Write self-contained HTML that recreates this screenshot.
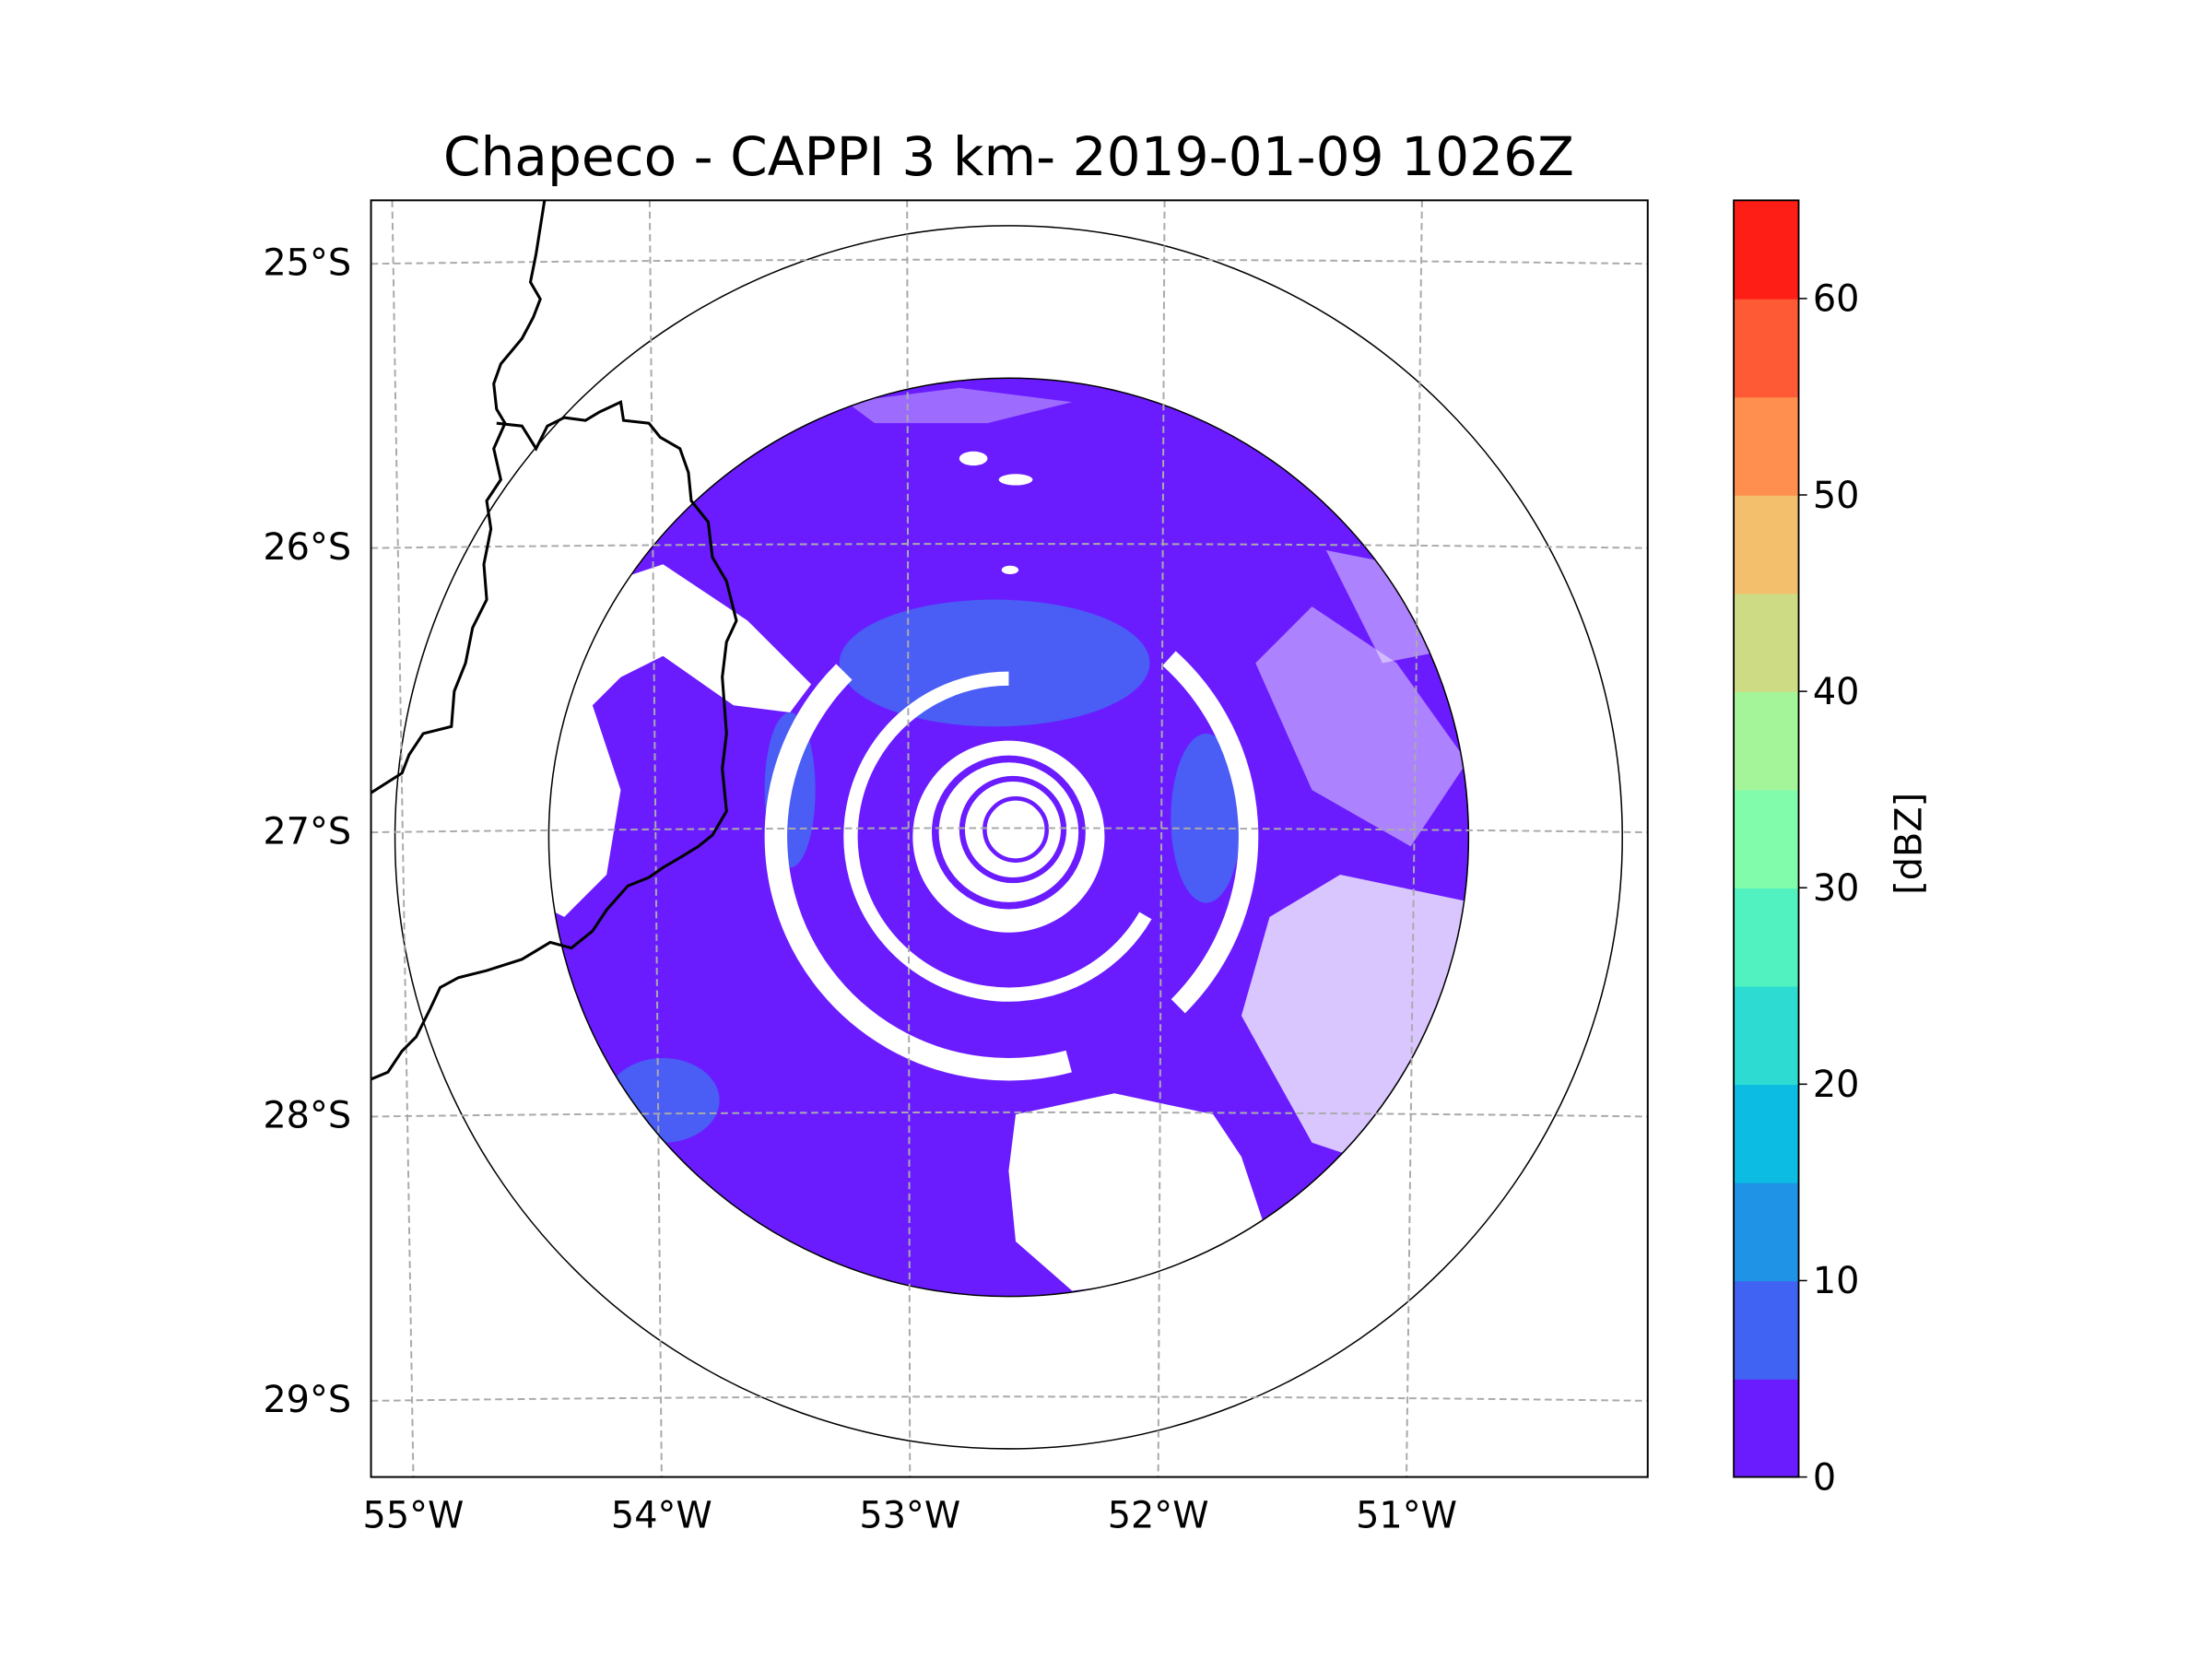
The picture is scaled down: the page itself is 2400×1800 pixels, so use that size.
<!DOCTYPE html>
<html><head><meta charset="utf-8"><style>
html,body{margin:0;padding:0;background:#fff;}
svg{display:block;font-family:"DejaVu Sans","Liberation Sans",sans-serif;}
</style></head><body>
<svg id="chart" width="2400" height="1800" viewBox="0 0 1568 1176" xmlns="http://www.w3.org/2000/svg">
<rect width="1568" height="1176" fill="#fff"/>
<text x="715" y="124" font-size="38" text-anchor="middle">Chapeco - CAPPI 3 km- 2019-01-09 1026Z</text>
<defs><clipPath id="plotclip"><rect x="263" y="142" width="905" height="905"/></clipPath>
<clipPath id="radarclip"><ellipse cx="715" cy="593.5" rx="326" ry="325.5"/></clipPath></defs>
<g id="radar" clip-path="url(#radarclip)">
<ellipse cx="715" cy="593.5" rx="326" ry="326" fill="#6a1cff"/>
<ellipse cx="705" cy="470" rx="110" ry="45" fill="#4a5df5"/>
<ellipse cx="470" cy="780" rx="40" ry="30" fill="#4a5df5"/>
<ellipse cx="855" cy="580" rx="25" ry="60" fill="#4a5df5"/>
<ellipse cx="560" cy="560" rx="18" ry="55" fill="#4a5df5"/>
<polygon points="440,410 470,400 530,440 575,485 560,505 520,500 470,465 440,480 400,520 380,500 410,440" fill="#fff"/>
<polygon points="380,520 420,500 440,560 430,620 400,650 380,640" fill="#fff"/>
<circle cx="715" cy="593" r="165" fill="none" stroke="#fff" stroke-width="16" stroke-dasharray="432 1100" transform="rotate(75 715 593)"/>
<circle cx="715" cy="593" r="170" fill="none" stroke="#fff" stroke-width="14" stroke-dasharray="276 1100" transform="rotate(-48 715 593)"/>
<circle cx="715" cy="593" r="112" fill="none" stroke="#fff" stroke-width="10" stroke-dasharray="469 800" transform="rotate(30 715 593)"/>
<circle cx="715" cy="593" r="68" fill="#fff"/>
<circle cx="715" cy="590" r="52" fill="none" stroke="#6a1cff" stroke-width="5"/>
<circle cx="718" cy="588" r="36" fill="none" stroke="#6a1cff" stroke-width="4"/>
<circle cx="720" cy="588" r="22" fill="none" stroke="#6a1cff" stroke-width="3"/>
<polygon points="720,790 790,775 860,790 880,820 900,880 840,905 760,915 720,880 715,830" fill="#fff"/>
<polygon points="900,650 950,620 1045,640 1045,760 990,830 930,810 880,720" fill="#fff" opacity="0.75"/>
<polygon points="890,470 930,430 990,470 1040,540 1000,600 930,560" fill="#fff" opacity="0.45"/>
<polygon points="940,390 990,400 1030,460 980,470" fill="#fff" opacity="0.45"/>
<ellipse cx="690" cy="325" rx="10" ry="5" fill="#fff"/>
<ellipse cx="720" cy="340" rx="12" ry="4" fill="#fff"/>
<ellipse cx="716" cy="404" rx="6" ry="3" fill="#fff"/>
<polygon points="600,285 680,275 760,285 700,300 620,300" fill="#fff" opacity="0.35"/>
</g>
<ellipse cx="715" cy="593.5" rx="326" ry="325.5" fill="none" stroke="#000" stroke-width="1"/>
<ellipse cx="715" cy="593.5" rx="435" ry="433.5" fill="none" stroke="#000" stroke-width="1" clip-path="url(#plotclip)"/>
<g id="grid" clip-path="url(#plotclip)"></g>
<g clip-path="url(#plotclip)">
<path d="M386,142 L380,180 L376,200 L383,212 L378,225 L370,240 L355,258 L350,272 L352,290 L358,300 L350,318 L355,340 L345,355 L348,375 L343,400 L345,425 L335,445 L330,470 L322,490 L320,515 L300,520 L290,535 L285,548 L263,562" fill="none" stroke="#000" stroke-width="2"/>
<path d="M352,300 L370,302 L380,318 L388,302 L400,296 L415,298 L425,292 L440,285 L442,298 L460,300 L468,310 L482,318 L488,335 L490,355 L502,370 L505,395 L515,412 L522,440 L515,455 L512,480 L515,520 L512,545 L515,575 L505,592 L495,600 L482,608 L470,615 L460,622 L445,628 L430,645 L420,660 L405,672 L390,668 L370,680 L345,688 L325,693 L312,700 L305,715 L295,735 L285,745 L275,760 L263,765" fill="none" stroke="#000" stroke-width="2"/>
</g>
<rect x="263" y="142" width="905" height="905" fill="none" stroke="#000" stroke-width="1.3"/>
<g id="ticks"></g>
<g id="colorbar"></g>
<text transform="translate(1362,598) rotate(-90)" font-size="26" text-anchor="middle">[dBZ]</text>
</svg>
<script>
const latTicks=[-25,-26,-27,-28,-29];
const latLabels=["25°S","26°S","27°S","28°S","29°S"];
const lonTicks=[-55,-54,-53,-52,-51];
const lonLabels=["55°W","54°W","53°W","52°W","51°W"];
const cbBounds=[0,5,10,15,20,25,30,35,40,45,50,55,60,65];
const cbColors=["#6a1cff","#4063f4","#1f93e6","#0cbce2","#2ddbd2","#52f2c0","#80fcab","#a4f59a","#cddb84","#f3bf6c","#ff8f4f","#ff5a36","#ff1e16"];
const cbTickVals=[0,10,20,30,40,50,60];
const NS="http://www.w3.org/2000/svg";
function mk(t,a,p){const e=document.createElementNS(NS,t);for(const k in a)e.setAttribute(k,a[k]);p.appendChild(e);return e;}
function latY(lat){return 588+(lat+27)*(-201.5);}
function lonXTop(lon){return 278+(lon+55)*182.5;}
function lonXBot(lon){return 293+(lon+55)*176;}
function cbY(v){return 1047-(v-0)/(65-0)*905;}
const grid=document.getElementById('grid'),ticks=document.getElementById('ticks'),cb=document.getElementById('colorbar');
latTicks.forEach((lat,i)=>{const y=latY(lat);
const p=mk('path',{d:`M263,${y+2} Q715,${y-4} 1168,${y+2}`,fill:'none',stroke:'#aaa','stroke-width':1.3,'stroke-dasharray':'5,3'},grid);


const t=mk('text',{x:249,y:y+10,'font-size':26,'text-anchor':'end'},ticks);t.textContent=latLabels[i];

});
lonTicks.forEach((lon,i)=>{
const p=mk('line',{x1:lonXTop(lon),y1:142,x2:lonXBot(lon),y2:1047,stroke:'#aaa','stroke-width':1.3,'stroke-dasharray':'5,3'},grid);


const t=mk('text',{x:lonXBot(lon),y:1083,'font-size':26,'text-anchor':'middle'},ticks);t.textContent=lonLabels[i];

});
cbColors.forEach((c,i)=>{const y1=cbY(cbBounds[i+1]),y0=cbY(cbBounds[i]);
const r=mk('rect',{x:1229,y:y1,width:46,height:y0-y1+0.5,fill:c},cb);

});
const f=mk('rect',{x:1229,y:142,width:46,height:905,fill:'none',stroke:'#000','stroke-width':1.2},cb);


cbTickVals.forEach(v=>{const y=cbY(v);
mk('line',{x1:1275,y1:y,x2:1281,y2:y,stroke:'#000','stroke-width':1},cb);
const t=mk('text',{x:1285,y:y+9,'font-size':26},cb);t.textContent=v;

});
</script>
</body></html>
